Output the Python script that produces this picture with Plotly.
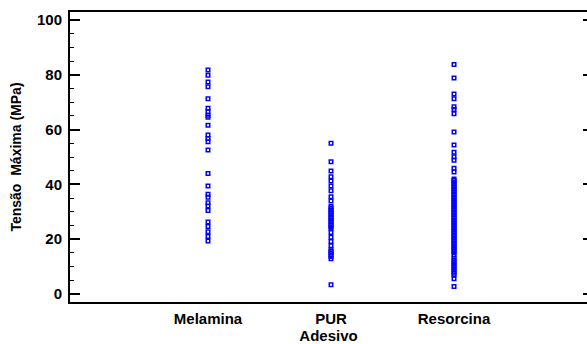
import plotly.graph_objects as go

# Ultimate stress (MPa) of bonded joints, per adhesive type
categorias = ["Melamina", "PUR", "Resorcina"]
ticks_y = [0, 20, 40, 60, 80, 100]

melamina = [81.8, 79.9, 77.4, 75.7, 71.3, 67.8, 66.5, 65.3, 64.5, 61.6,
            58.0, 56.8, 55.6, 52.6, 44.0, 39.4, 36.4, 35.3, 33.3, 32.1,
            30.4, 26.2, 24.6, 22.7, 20.9, 19.3]

pur = [55.0, 48.3, 44.9, 42.8, 41.2, 39.4, 37.7, 35.5, 33.9,
       31.9, 31.3, 30.6, 30.0, 29.4, 28.8, 28.1, 27.5, 26.9, 26.3,
       25.6, 25.0, 24.4, 24.0, 22.4, 20.7, 19.1, 17.6,
       16.1, 15.5, 14.9, 14.2, 13.6, 12.8, 3.3]

resorcina = [83.8, 78.9, 73.0, 71.3, 68.4, 67.4, 65.8, 59.1, 54.4, 51.7,
             50.1, 48.8, 45.9, 44.5,
             42.0, 41.4, 40.8, 40.2, 39.6, 39.0, 38.4, 37.8, 37.2, 36.6,
             36.0, 35.4, 34.8, 34.2, 33.6, 33.0, 32.4, 31.8, 31.2, 30.6,
             30.0, 29.4, 28.8, 28.2, 27.6, 27.0, 26.4, 25.8, 25.2, 24.6,
             24.0, 23.4, 22.8, 22.2, 21.6, 21.0, 20.4, 19.8, 19.2, 18.6,
             18.0, 17.4, 16.8, 16.2, 15.6, 15.0, 14.2,
             13.0, 12.3, 11.6, 10.9, 10.2, 9.5, 8.8, 8.1, 7.5, 6.9,
             5.5, 2.7]

series = {"Melamina": melamina, "PUR": pur, "Resorcina": resorcina}

familia = "Arial, Liberation Sans, sans-serif"
fonte = dict(family=familia, size=15, color="black")
marcador = dict(symbol="square-open", size=3.5, color="#0000ff",
                line=dict(width=1.5, color="#0000ff"))


def negrito(texto):
    return f"<b>{texto}</b>"


fig = go.Figure()
for nome, valores in series.items():
    # the last series sits on the right-hand twin axis (same range),
    # so that axis gets drawn with its tick marks
    eixo_y = "y2" if nome == categorias[-1] else "y"
    fig.add_trace(go.Scatter(
        x=[nome] * len(valores), y=valores, mode="markers",
        marker=marcador, showlegend=False, hoverinfo="y", yaxis=eixo_y,
    ))

faixa_y = [-3, 103]

fig.update_layout(
    width=587, height=344,
    margin=dict(l=70, r=0, t=12, b=42),
    paper_bgcolor="white", plot_bgcolor="white",
    font=fonte,
    xaxis=dict(
        type="category", categoryorder="array", categoryarray=categorias,
        range=[-1.122, 3.081],
        tickvals=categorias, ticktext=[negrito(c) for c in categorias],
        showgrid=False, zeroline=False,
        showline=True, linecolor="black", linewidth=2, mirror=True,
        ticks="", tickfont=dict(size=15),
        ticklabelstandoff=2,
        title=dict(text=negrito("Adesivo"), standoff=0,
                   font=dict(size=15)),
    ),
    yaxis=dict(
        range=faixa_y, tickvals=ticks_y,
        ticktext=[negrito(v) for v in ticks_y],
        showgrid=False, zeroline=False,
        showline=True, linecolor="black", linewidth=2,
        ticks="inside", ticklen=10, tickwidth=1.5, tickcolor="black",
        minor=dict(ticks="inside", ticklen=4, dtick=5, tickwidth=1.2,
                   tickcolor="black", showgrid=False),
        tickfont=dict(size=15),
        ticklabelstandoff=3,
        title=dict(text=negrito("Tensão  Máxima (MPa)"), standoff=12,
                   font=dict(size=14)),
    ),
    yaxis2=dict(
        overlaying="y", side="right", range=faixa_y, tickvals=ticks_y,
        showgrid=False, zeroline=False, showline=False,
        ticks="inside", ticklen=4, tickwidth=2, tickcolor="black",
        showticklabels=False,
    ),
)

fig.write_html("out.html")
